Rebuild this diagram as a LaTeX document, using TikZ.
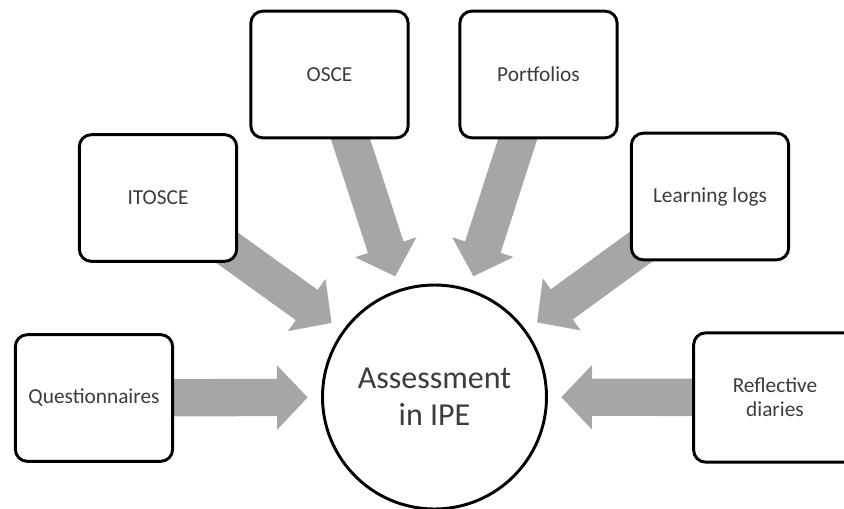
\documentclass[tikz,border=0pt]{standalone}
\usepackage{fontspec}
\setmainfont{Carlito}
\usetikzlibrary{arrows.meta,backgrounds}
\definecolor{arrowgrey}{HTML}{A6A6A6}
\definecolor{labelgrey}{HTML}{3C3C3C}
\begin{document}
\begin{tikzpicture}[x=0.75pt, y=-0.75pt,
    every node/.style={font=\fontsize{16}{18}\selectfont, align=center, text=labelgrey},
    methodbox/.style={draw=black, line width=2.2pt, rounded corners=9pt, fill=white,
        minimum width=118pt, minimum height=95pt},
    hub/.style={draw=black, line width=2.2pt, circle, fill=white, minimum size=168pt,
        inner sep=0pt, font=\fontsize{24}{28}\selectfont},
    feed/.style={draw=arrowgrey, line width=28pt,
        -{Triangle[length=23pt, width=47pt]}, shorten >=10pt}]
    \clip (0,0) rectangle (844,508);
    \node[hub] (assess) at (434.5,397) {Assessment\\in IPE};
    \node[methodbox] (quest) at (94,398) {Questionnaires};
    \node[methodbox] (itosce) at (158,198) {ITOSCE};
    \node[methodbox] (osce) at (329.5,74.5) {OSCE};
    \node[methodbox] (portf) at (538.5,74.5) {Portfolios};
    \node[methodbox] (logs) at (710,196.5) {Learning logs};
    \node[methodbox, minimum width=122pt, minimum height=97pt] (diary) at (775,397.5) {Reflective\\diaries};
    \begin{pgfonlayer}{background}
        \foreach \src in {quest, itosce, osce, portf, logs, diary} {
            \draw[feed] (\src.center) -- (assess);
        }
    \end{pgfonlayer}
\end{tikzpicture}
\end{document}
